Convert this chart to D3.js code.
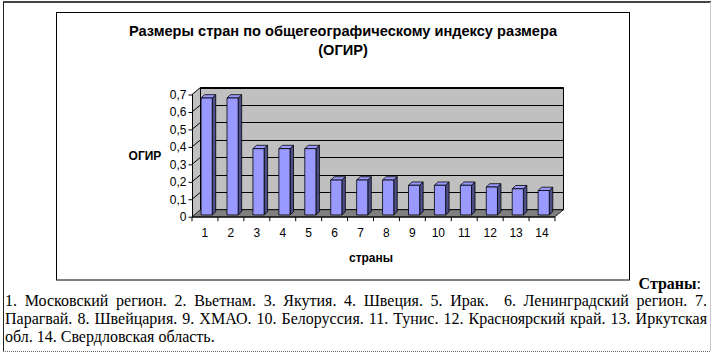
<!DOCTYPE html>
<html><head><meta charset="utf-8">
<script src="https://cdn.jsdelivr.net/npm/d3@7"></script>
<style>
html,body{margin:0;padding:0;background:#fff;}
#wrap{position:relative;width:713px;height:357px;overflow:hidden;}
svg{position:absolute;left:0;top:0;}
.para{position:absolute;left:5px;width:702px;font-family:"Liberation Serif","Times New Roman",serif;font-size:16px;line-height:18px;color:#000;white-space:nowrap;}
.j{text-align:justify;text-align-last:justify;white-space:normal;}
</style></head>
<body><div id="wrap"><svg id="chart" width="713" height="357"></svg></div>
<script>
const categories = ["1","2","3","4","5","6","7","8","9","10","11","12","13","14"];
const values = [0.67,0.67,0.38,0.38,0.38,0.2,0.2,0.2,0.17,0.17,0.17,0.16,0.15,0.14];
const yTicks = [0,0.1,0.2,0.3,0.4,0.5,0.6,0.7];
const titleLines = ["Размеры стран по общегеографическому индексу размера","(ОГИР)"];
const yTitle = "ОГИР";
const xTitle = "страны";
const legendHead = "Страны";
const legendLines = [
 "1. Московский регион. 2. Вьетнам. 3. Якутия. 4. Швеция. 5. Ирак.&nbsp; 6. Ленинградский регион. 7.",
 "Парагвай. 8. Швейцария. 9. ХМАО. 10. Белоруссия. 11. Тунис. 12. Красноярский край. 13. Иркутская",
 "обл. 14. Свердловская область."
];

const svg = d3.select("#chart");
// outer borders
svg.append("line").attr("x1",3).attr("x2",711).attr("y1",2).attr("y2",2).attr("stroke","#444").attr("stroke-width",2);
svg.append("line").attr("x1",3.5).attr("x2",3.5).attr("y1",2).attr("y2",351).attr("stroke","#222").attr("stroke-width",1);
svg.append("line").attr("x1",710.5).attr("x2",710.5).attr("y1",2).attr("y2",351).attr("stroke","#c8c8c8").attr("stroke-width",1);
svg.append("line").attr("x1",3).attr("x2",711).attr("y1",351.5).attr("y2",351.5).attr("stroke","#666").attr("stroke-width",1).attr("stroke-dasharray","1,1");
// chart frame
svg.append("rect").attr("x",56.5).attr("y",12.5).attr("width",573).attr("height",267.5).attr("fill","#fff").attr("stroke","#000");

const SANS = "Liberation Sans, Arial, sans-serif";
// title
svg.append("g").selectAll("text").data(titleLines).join("text")
  .attr("x",343).attr("y",(d,i)=>36+i*19).attr("text-anchor","middle")
  .attr("font-family",SANS).attr("font-weight","bold").attr("font-size",14.6)
  .text(d=>d);

const x = d3.scaleBand().domain(categories).range([192,555]).padding(0);
const y = d3.scaleLinear().domain([0,0.7]).range([216.7,94.5]);
const DX = 8.5, DY = -7;
const X0 = 192, X1 = 555, Y0 = y(0), YT = y(0.7);
const poly = pts => pts.map(p=>p.join(",")).join(" ");

// side wall
svg.append("polygon").attr("points",poly([[X0,YT],[X0+DX,YT+DY],[X0+DX,Y0+DY],[X0,Y0]])).attr("fill","#c0c0c0").attr("stroke","none");
// back wall
svg.append("polygon").attr("points",poly([[X0+DX,YT+DY],[X1+DX,YT+DY],[X1+DX,Y0+DY],[X0+DX,Y0+DY]])).attr("fill","#c0c0c0").attr("stroke","#000").attr("stroke-width",1);
// floor
svg.append("polygon").attr("points",poly([[X0,Y0],[X1,Y0],[X1+DX,Y0+DY],[X0+DX,Y0+DY]])).attr("fill","#808080").attr("stroke","#000").attr("stroke-width",0.8);

// gridlines
const grid = svg.append("g").attr("stroke","#000").attr("stroke-width",1);
yTicks.filter(v=>v>0).forEach(v=>{
  const yy = Math.round(y(v)+DY)+0.5;
  grid.append("line").attr("x1",X0+DX).attr("x2",X1+DX).attr("y1",yy).attr("y2",yy);
  grid.append("line").attr("x1",X0).attr("y1",y(v)).attr("x2",X0+DX).attr("y2",y(v)+DY);
});

// bars
const bw = x.bandwidth();
const bdx = 3.5, bdy = -3.3;
const bars = svg.append("g").attr("stroke","#000").attr("stroke-width",0.8).attr("stroke-linejoin","round");
categories.forEach((c,i)=>{
  const v = values[i];
  const L = x(c) + bw*0.35, R = L + bw*0.43;
  const base = Y0 - 1.75;
  const top = base - (Y0 - y(v));
  bars.append("polygon").attr("points",poly([[R,top],[R+bdx,top+bdy],[R+bdx,base+bdy],[R,base]])).attr("fill","#4d4d88");
  bars.append("polygon").attr("points",poly([[L,top],[L+bdx,top+bdy],[R+bdx,top+bdy],[R,top]])).attr("fill","#9999ff");
  bars.append("rect").attr("x",L).attr("y",top).attr("width",R-L).attr("height",base-top).attr("fill","#9999ff");
});

// y axis
const yAxis = d3.axisLeft(y).tickValues(yTicks).tickSize(4).tickPadding(2)
  .tickFormat(d=> d===0 ? "0" : d3.format(".1f")(d).replace(".",","));
const ga = svg.append("g").attr("transform",`translate(${X0+0.5},0)`).call(yAxis);
ga.select(".domain").attr("d",`M0,${YT}V${Y0}`);
ga.selectAll("text").attr("font-family",SANS).attr("font-size",12).attr("fill","#000");

// x axis
const gx = svg.append("g").attr("transform",`translate(0,${Y0+0.5})`);
gx.append("line").attr("x1",X0).attr("x2",X1).attr("y1",0).attr("y2",0).attr("stroke","#000");
gx.selectAll("line.t").data(d3.range(categories.length+1)).join("line").attr("class","t")
  .attr("x1",i=>X0 + i*bw).attr("x2",i=>X0 + i*bw).attr("y1",0).attr("y2",4).attr("stroke","#000");
gx.selectAll("text").data(categories).join("text")
  .attr("x",d=>x(d)+bw/2).attr("y",19.5).attr("text-anchor","middle")
  .attr("font-family",SANS).attr("font-size",12).text(d=>d);

// axis titles
svg.append("text").attr("x",145).attr("y",159.5).attr("text-anchor","middle")
  .attr("font-family",SANS).attr("font-weight","bold").attr("font-size",12).text(yTitle);
svg.append("text").attr("x",371).attr("y",261.5).attr("text-anchor","middle")
  .attr("font-family",SANS).attr("font-weight","bold").attr("font-size",12).text(xTitle);

// legend paragraph
const wrap = d3.select("#wrap");
wrap.append("div").attr("class","para").style("top","275px").style("left","auto").style("right","12px").style("width","auto")
  .html(`<b>${legendHead}</b>:`);
legendLines.forEach((t,i)=>{
  wrap.append("div").attr("class", i<legendLines.length-1 ? "para j" : "para")
    .style("top",(292+i*18)+"px").html(t);
});
</script></body></html>
